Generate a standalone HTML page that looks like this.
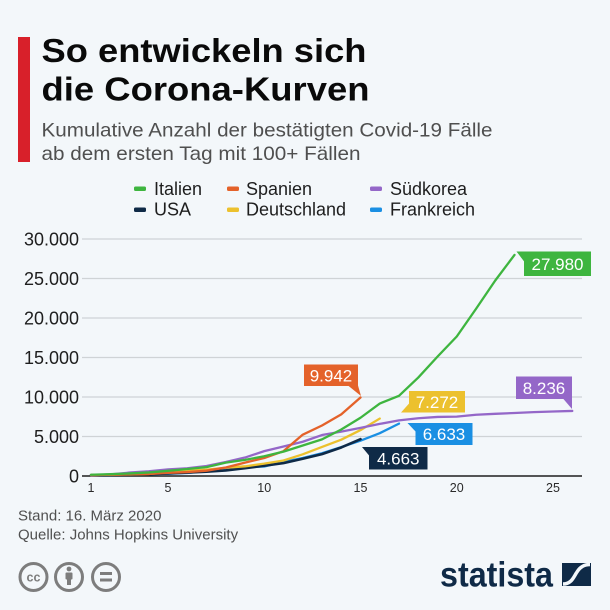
<!DOCTYPE html>
<html><head><meta charset="utf-8"><style>
html,body{margin:0;padding:0;background:#f3f7fa;}
svg{display:block;font-family:"Liberation Sans",Arial,sans-serif;}
</style></head><body>
<svg width="610" height="610" viewBox="0 0 610 610" xmlns="http://www.w3.org/2000/svg">
<rect width="610" height="610" fill="#f3f7fa"/>
<!-- red bar -->
<rect x="18" y="37" width="12" height="125" fill="#d8202a"/>
<!-- title -->
<text x="41.5" y="62" font-size="33" font-weight="bold" fill="#0a0a0a" textLength="325" lengthAdjust="spacingAndGlyphs">So entwickeln sich</text>
<text x="41.5" y="100.5" font-size="33" font-weight="bold" fill="#0a0a0a" textLength="328" lengthAdjust="spacingAndGlyphs">die Corona-Kurven</text>
<!-- subtitle -->
<text x="41.5" y="136.7" font-size="19.5" fill="#4f4f4f" textLength="451" lengthAdjust="spacingAndGlyphs">Kumulative Anzahl der bestätigten Covid-19 Fälle</text>
<text x="41.5" y="160" font-size="19.5" fill="#4f4f4f" textLength="319" lengthAdjust="spacingAndGlyphs">ab dem ersten Tag mit 100+ Fällen</text>
<!-- legend -->
<g font-size="18" fill="#1e1e1e">
<rect x="134" y="186.5" width="12" height="4.5" rx="1.5" fill="#3eb53f"/>
<text x="154" y="195">Italien</text>
<rect x="227" y="186.5" width="12" height="4.5" rx="1.5" fill="#e4622a"/>
<text x="246" y="195">Spanien</text>
<rect x="370" y="186.5" width="12" height="4.5" rx="1.5" fill="#9467c8"/>
<text x="390" y="195">Südkorea</text>
<rect x="134" y="207.5" width="12" height="4.5" rx="1.5" fill="#0f2a47"/>
<text x="154" y="215.7">USA</text>
<rect x="227" y="207.5" width="12" height="4.5" rx="1.5" fill="#ecc12e"/>
<text x="246" y="215.7">Deutschland</text>
<rect x="370" y="207.5" width="12" height="4.5" rx="1.5" fill="#1a8fe3"/>
<text x="390" y="215.7">Frankreich</text>
</g>
<!-- gridlines -->
<g stroke="#cfd3d6" stroke-width="1.2">
<line x1="82" y1="239" x2="582" y2="239"/>
<line x1="82" y1="278.5" x2="582" y2="278.5"/>
<line x1="82" y1="318" x2="582" y2="318"/>
<line x1="82" y1="357.5" x2="582" y2="357.5"/>
<line x1="82" y1="397" x2="582" y2="397"/>
<line x1="82" y1="436.5" x2="582" y2="436.5"/>
</g>
<line x1="82" y1="476" x2="582" y2="476" stroke="#1e1e1e" stroke-width="1.5"/>
<!-- y labels -->
<g font-size="18" fill="#1e1e1e" text-anchor="end">
<text x="79" y="245.3">30.000</text>
<text x="79" y="284.8">25.000</text>
<text x="79" y="324.3">20.000</text>
<text x="79" y="363.8">15.000</text>
<text x="79" y="403.3">10.000</text>
<text x="79" y="442.8">5.000</text>
<text x="79" y="482.3">0</text>
</g>
<!-- x labels -->
<g font-size="12.5" fill="#2a2a2a" text-anchor="middle">
<text x="91" y="492">1</text>
<text x="168" y="492">5</text>
<text x="264.25" y="492">10</text>
<text x="360.5" y="492">15</text>
<text x="456.75" y="492">20</text>
<text x="553" y="492">25</text>
</g>
<!-- series -->
<g fill="none" stroke-width="2.3" stroke-linejoin="round" stroke-linecap="round">
<polyline stroke="#1a8fe3" points="91,475.21 110.25,474.97 129.5,474.49 148.75,474.39 168,473.75 187.25,473.02 206.5,470.84 225.75,468.5 245,467.1 264.25,466.45 283.5,461.91 302.75,457.98 322,453.28 341.25,447.08 360.5,440.7 379.75,433.16 399,423.6"/>
<polyline stroke="#0f2a47" stroke-width="2.6" points="91,475.21 110.25,475.02 129.5,474.75 148.75,474.25 168,473.48 187.25,472.56 206.5,471.73 225.75,470.44 245,468.15 264.25,465.72 283.5,463.12 302.75,458.75 322,454.12 341.25,447.46 360.5,439.16"/>
<polyline stroke="#ecc12e" points="91,474.97 110.25,474.74 129.5,474.45 148.75,473.93 168,472.19 187.25,470.71 206.5,469.69 225.75,467.78 245,466.33 264.25,463.64 283.5,460.47 302.75,454.31 322,446.97 341.25,439.67 360.5,430.08 379.75,418.55"/>
<polyline stroke="#9467c8" points="91,475.18 110.25,474.39 129.5,472.58 148.75,471.24 168,469.42 187.25,468.28 206.5,466.04 225.75,462.05 245,457.54 264.25,451.12 283.5,446.49 302.75,441.75 322,435.03 341.25,431.59 360.5,427.9 379.75,423.92 399,420.38 418.25,418.22 437.5,416.92 456.75,416.65 476,414.74 495.25,413.83 514.5,412.97 533.75,412.12 553,411.52 572.25,410.94"/>
<polyline stroke="#e4622a" points="91,475.05 110.25,474.7 129.5,474.25 148.75,473.95 168,472.84 187.25,472.05 206.5,470.68 225.75,467.52 245,462.61 264.25,458.01 283.5,451.15 302.75,434.67 322,425.51 341.25,414.4 360.5,397.46"/>
<polyline stroke="#3eb53f" points="91,474.78 110.25,474.19 129.5,473.46 148.75,472.42 168,470.83 187.25,468.98 206.5,467.09 225.75,462.62 245,459.92 264.25,456.23 283.5,451.6 302.75,445.52 322,439.38 341.25,429.52 360.5,417.74 379.75,403.54 399,395.82 418.25,377.55 437.5,356.61 456.75,336.49 476,308.86 495.25,280.5 514.5,254.96"/>
</g>
<!-- value labels -->
<g font-size="17" fill="#ffffff" text-anchor="middle">
<rect x="524" y="251.5" width="67" height="24.5" fill="#3eb53f"/>
<polygon points="516.5,251.5 524.5,251.5 524.5,262" fill="#3eb53f"/>
<text x="557.5" y="269.8">27.980</text>

<rect x="304" y="364.5" width="54" height="21.5" fill="#e4622a"/>
<polygon points="348,385.5 358,385.5 361,396" fill="#e4622a"/>
<text x="331" y="381.4">9.942</text>

<rect x="409" y="391" width="56" height="21.5" fill="#ecc12e"/>
<polygon points="401,412.5 409.5,412.5 409.5,403" fill="#ecc12e"/>
<text x="437" y="407.9">7.272</text>

<rect x="516" y="376.5" width="56" height="22.5" fill="#9467c8"/>
<polygon points="563,398.5 572,398.5 572,409" fill="#9467c8"/>
<text x="544" y="393.9">8.236</text>

<rect x="415.5" y="423" width="57" height="22" fill="#1a8fe3"/>
<polygon points="407.5,423 416,423 416,432" fill="#1a8fe3"/>
<text x="444" y="440.1">6.633</text>

<rect x="369" y="447" width="58.5" height="22.5" fill="#0f2a47"/>
<polygon points="362,447 369.5,447 369.5,456" fill="#0f2a47"/>
<text x="398.25" y="464.4">4.663</text>
</g>
<!-- footer -->
<g font-size="15" fill="#505050">
<text x="18" y="520.7">Stand: 16. März 2020</text>
<text x="18" y="539.3">Quelle: Johns Hopkins University</text>
</g>
<!-- cc icons -->
<g stroke="#7d7d7d" stroke-width="3" fill="none">
<circle cx="33.5" cy="577" r="13.5"/>
<circle cx="69" cy="577" r="13.5"/>
<circle cx="106" cy="577" r="13.5"/>
</g>
<text x="33.5" y="581.5" font-size="12.5" font-weight="bold" fill="#7d7d7d" text-anchor="middle">cc</text>
<g fill="#7d7d7d">
<circle cx="69" cy="569" r="2.4"/>
<rect x="65.5" y="572.5" width="7" height="7" rx="1"/>
<rect x="67" y="578" width="4" height="7"/>
<rect x="100" y="572" width="12" height="3"/>
<rect x="100" y="578.5" width="12" height="3"/>
</g>
<!-- statista logo -->
<text x="440" y="586.7" font-size="35" font-weight="bold" fill="#0f2a47" textLength="113" lengthAdjust="spacingAndGlyphs">statista</text>
<rect x="562" y="563" width="29" height="23" fill="#0f2a47"/>
<path d="M563,584 C572,584 574,576 577,572 C580,567 584,564.5 590,564.5" stroke="#f3f7fa" stroke-width="3.5" fill="none"/>
</svg>
</body></html>
